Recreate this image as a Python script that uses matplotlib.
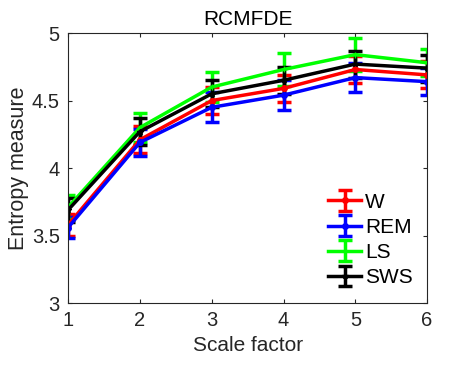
import matplotlib
matplotlib.use("Agg")
from matplotlib import pyplot as plt

plt.rcParams['font.family'] = ['Liberation Sans', 'DejaVu Sans']

scale = [1, 2, 3, 4, 5, 6]
labels = ['W', 'REM', 'LS', 'SWS']
colors = ['#ff0000', '#0000ff', '#00ff00', '#000000']
markers = ['o', 'o', '+', '*']

w_mean = [3.58, 4.21, 4.50, 4.59, 4.73, 4.69]
w_err = [0.08, 0.10, 0.10, 0.10, 0.10, 0.10]
rem_mean = [3.56, 4.19, 4.45, 4.54, 4.67, 4.64]
rem_err = [0.08, 0.10, 0.11, 0.11, 0.11, 0.10]
ls_mean = [3.71, 4.30, 4.60, 4.73, 4.84, 4.78]
ls_err = [0.09, 0.11, 0.11, 0.12, 0.12, 0.10]
sws_mean = [3.69, 4.27, 4.55, 4.65, 4.77, 4.74]
sws_err = [0.09, 0.10, 0.10, 0.10, 0.10, 0.10]

means = [w_mean, rem_mean, ls_mean, sws_mean]
errs = [w_err, rem_err, ls_err, sws_err]

fig = plt.figure(figsize=(4.73, 3.67), dpi=100)
ax = fig.add_axes([0.144, 0.174, 0.759, 0.736])

for m, e, c, mk, lab in zip(means, errs, colors, markers, labels):
    ax.errorbar(scale, m, yerr=e, color=c, marker=mk, markersize=4,
                linewidth=2.5, elinewidth=2.5, capsize=5, capthick=2.5,
                label=lab)

ax.set_xlim(1, 6)
ax.set_ylim(3, 5)
ax.set_xticks([1, 2, 3, 4, 5, 6])
ax.set_yticks([3, 3.5, 4, 4.5, 5])
ax.set_yticklabels(['3', '3.5', '4', '4.5', '5'])
ax.tick_params(direction='in', top=True, right=True, labelsize=14.5,
               length=3, colors='#262626', pad=6)
for s in ax.spines.values():
    s.set_color('#262626')
ax.set_xlabel('Scale factor', fontsize=15, color='#262626', labelpad=4)
ax.set_ylabel('Entropy measure', fontsize=15.5, color='#262626', labelpad=2)
ax.set_title('RCMFDE', fontsize=15, pad=6)

ax.legend(loc='lower right', frameon=False, fontsize=15, handlelength=1.6,
          handletextpad=0.2, labelspacing=0.3, borderaxespad=0.1,
          bbox_to_anchor=(0.99, 0.02))

fig.savefig('out.png', dpi=100)
